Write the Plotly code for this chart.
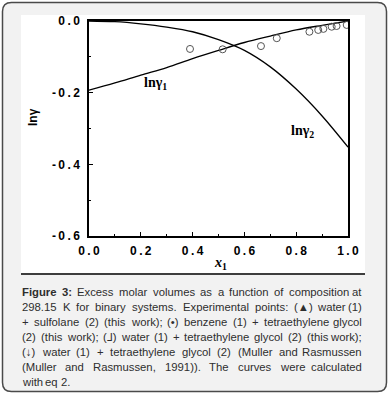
import plotly.graph_objects as go

# ---------------- data ----------------
x_curve = [0.0, 0.1, 0.2, 0.3, 0.4, 0.5, 0.6, 0.7, 0.8, 0.9, 1.0]
ln_gamma1 = [-0.193, -0.173, -0.151, -0.130, -0.105, -0.082, -0.060, -0.042, -0.025, -0.012, 0.0]
ln_gamma2 = [0.0, -0.002, -0.008, -0.017, -0.030, -0.052, -0.082, -0.128, -0.190, -0.265, -0.352]

x_exp = [0.39, 0.516, 0.664, 0.725, 0.851, 0.885, 0.905, 0.937, 0.956, 0.995]
y_exp = [-0.078, -0.079, -0.070, -0.048, -0.030, -0.025, -0.022, -0.016, -0.014, -0.011]

x_ticks = [0.0, 0.2, 0.4, 0.6, 0.8, 1.0]
x_ticktext = ["0.0", "0.2", "0.4", "0.6", "0.8", "1.0"]
y_ticks = [-0.6, -0.4, -0.2, 0.0]
y_ticktext = ["-0.6", "-0.4", "-0.2", "0.0"]

caption_bold = "Figure 3:"
caption_lines = [
    "Figure 3: Excess molar volumes as a function of composition at",
    "298.15 K for binary systems. Experimental points: (\u25b2) water (1)",
    "+ sulfolane (2) (this work); (\u2022) benzene (1) + tetraethylene glycol",
    "(2) (this work); (\u2143) water (1) + tetraethylene glycol (2) (this work);",
    "(\u2193) water (1) + tetraethylene glycol (2) (Muller and Rasmussen",
    "(Muller and Rasmussen, 1991)). The curves were calculated",
    "with eq 2.",
]

# ---------------- layout geometry ----------------
W, H = 389, 394
L, R, T, B = 89, 348, 21, 236
TS = "\u2009"  # thin space for letter spacing
CAP_SIZE = 11.3
CAP_LEFT, CAP_RIGHT = 21, 363

ARIAL = {
    ' ': 278, '(': 333, ')': 333, '+': 584, ',': 278, '-': 333, '.': 278, ':': 278, ';': 278,
    'A': 667, 'B': 667, 'C': 722, 'D': 722, 'E': 667, 'F': 611, 'G': 778, 'H': 722, 'I': 278, 'J': 500,
    'K': 667, 'L': 556, 'M': 833, 'N': 722, 'O': 778, 'P': 667, 'Q': 778, 'R': 722, 'S': 667, 'T': 611,
    'U': 722, 'V': 667, 'W': 944, 'X': 667, 'Y': 667, 'Z': 611,
    'a': 556, 'b': 556, 'c': 500, 'd': 556, 'e': 556, 'f': 278, 'g': 556, 'h': 556, 'i': 222, 'j': 222,
    'k': 500, 'l': 222, 'm': 833, 'n': 556, 'o': 556, 'p': 556, 'q': 556, 'r': 333, 's': 500, 't': 278,
    'u': 556, 'v': 500, 'w': 722, 'x': 500, 'y': 500, 'z': 500,
    '\u25b2': 770, '\u2022': 350, '\u2143': 560, '\u2193': 500,
}
ARIAL_BOLD = {'F': 611, 'i': 278, 'g': 611, 'u': 611, 'r': 389, 'e': 556, '3': 556, ':': 333}


def text_width(word, bold=False):
    table = ARIAL_BOLD if bold else ARIAL
    return sum(table.get(c, ARIAL.get(c, 556)) for c in word) * CAP_SIZE / 1000.0


def spaced(s):
    return TS.join(list(s))


def px(x):
    return (x - L) / (R - L)


def py(y):
    return (B - y) / (B - T)


def pt(x, y):
    return f"{px(x):.5f},{py(y):.5f}"


fig = go.Figure()
fig.add_trace(go.Scatter(x=x_curve, y=ln_gamma1, mode="lines", line=dict(color="black", width=1.3, shape="spline"),
                         showlegend=False, hoverinfo="skip"))
fig.add_trace(go.Scatter(x=x_curve, y=ln_gamma2, mode="lines", line=dict(color="black", width=1.3, shape="spline"),
                         showlegend=False, hoverinfo="skip"))
fig.add_trace(go.Scatter(x=x_exp, y=y_exp, mode="markers",
                         marker=dict(symbol="circle-open", size=7, color="#555555", line=dict(width=1)),
                         showlegend=False, hoverinfo="skip"))

# card
x0, y0, x1, y1, r = 2.5, 2.5, 386.5, 391.5, 9
card = (f"M {pt(x0 + r, y0)} L {pt(x1 - r, y0)} Q {pt(x1, y0)} {pt(x1, y0 + r)} "
        f"L {pt(x1, y1 - r)} Q {pt(x1, y1)} {pt(x1 - r, y1)} "
        f"L {pt(x0 + r, y1)} Q {pt(x0, y1)} {pt(x0, y1 - r)} "
        f"L {pt(x0, y0 + r)} Q {pt(x0, y0)} {pt(x0 + r, y0)} Z")
shapes = [
    dict(type="path", path=card, xref="paper", yref="paper", fillcolor="#f2f2f2",
         line=dict(color="#4a4a4a", width=1.5), layer="below"),
    dict(type="rect", xref="paper", yref="paper", x0=px(21), x1=px(365), y0=py(273), y1=py(15),
         fillcolor="white", line=dict(width=0), layer="below"),
    dict(type="line", xref="paper", yref="paper", x0=px(21), x1=px(365), y0=py(274), y1=py(274),
         line=dict(color="black", width=1.5), layer="below"),
]

annotations = [
    dict(text="<b>ln\u03b3</b>", xref="paper", yref="paper", x=px(33), y=py(117), textangle=-90,
         showarrow=False, font=dict(family="Liberation Sans", size=12, color="black"),
         xanchor="center", yanchor="middle"),
    dict(text="<b>ln\u03b3<sub>1</sub></b>", xref="paper", yref="paper", x=px(155), y=py(83),
         showarrow=False, font=dict(family="Liberation Serif", size=14, color="black"),
         xanchor="center", yanchor="middle"),
    dict(text="<b>ln\u03b3<sub>2</sub></b>", xref="paper", yref="paper", x=px(302), y=py(131),
         showarrow=False, font=dict(family="Liberation Serif", size=14, color="black"),
         xanchor="center", yanchor="middle"),
    dict(text="<b><i>x</i><sub>1</sub></b>", xref="paper", yref="paper", x=px(220), y=py(263),
         showarrow=False, font=dict(family="Liberation Serif", size=14, color="black"),
         xanchor="center", yanchor="middle"),
]

# justified caption: one annotation per word
n_bold_words = len(caption_bold.split())
for i, line in enumerate(caption_lines):
    words = line.split(" ")
    bolds = [(i == 0 and k < n_bold_words) for k in range(len(words))]
    widths = [text_width(w, b) for w, b in zip(words, bolds)]
    ycen = py(291.5 + 15 * i)
    last = (i == len(caption_lines) - 1)
    if last or len(words) == 1:
        gap = text_width(" ")
    else:
        gap = (CAP_RIGHT - CAP_LEFT - sum(widths)) / (len(words) - 1)
    xpos = CAP_LEFT
    for k, (w, b, wd) in enumerate(zip(words, bolds, widths)):
        is_end = (not last) and k == len(words) - 1 and k > 0
        annotations.append(dict(
            text=f"<b>{w}</b>" if b else w, xref="paper", yref="paper",
            x=px(CAP_RIGHT) if is_end else px(xpos), y=ycen,
            showarrow=False, xanchor="right" if is_end else "left", yanchor="middle",
            borderpad=0, font=dict(family="Liberation Sans", size=CAP_SIZE, color="#2e2e2e")))
        xpos += wd + gap

axis_common = dict(showline=True, mirror=True, linecolor="black", linewidth=1.5, showgrid=False,
                   zeroline=False, ticks="inside", tickcolor="black", tickwidth=1.2,
                   tickfont=dict(family="Liberation Sans", size=12, color="black", weight="bold"))

fig.update_layout(
    width=W, height=H,
    margin=dict(l=L, r=W - R, t=T, b=H - B),
    paper_bgcolor="white", plot_bgcolor="white",
    shapes=shapes, annotations=annotations,
    xaxis=dict(range=[0, 1], tickvals=x_ticks, ticktext=[spaced(t) for t in x_ticktext], ticklen=4,
               minor=dict(dtick=0.1, ticks="inside", ticklen=2, tickcolor="black"),
               ticklabelstandoff=3, **axis_common),
    yaxis=dict(range=[-0.6, 0], tickvals=y_ticks, ticktext=[spaced(t) for t in y_ticktext], ticklen=4,
               minor=dict(dtick=0.1, ticks="inside", ticklen=2, tickcolor="black"),
               ticklabelstandoff=5, **axis_common),
)

fig.write_html("out.html", config={"displayModeBar": False},
               post_script="document.body.style.margin='0px';document.body.style.overflow='hidden';")
